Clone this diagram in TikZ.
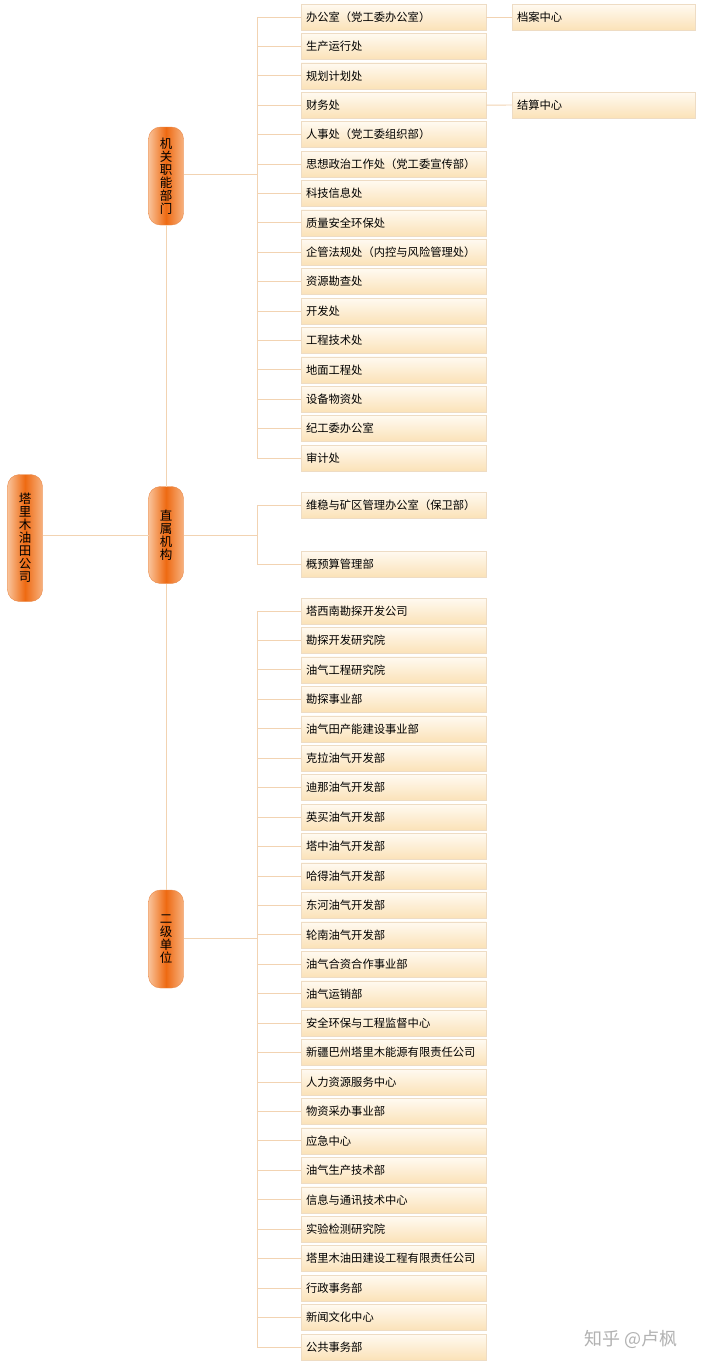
\documentclass[tikz,border=0pt]{standalone}
\usepackage{fontspec}
\setmainfont{Noto Sans CJK SC}
\usepackage{tikz}
\usetikzlibrary{calc}

\definecolor{boxtop}{HTML}{FFFAF1}
\definecolor{boxbot}{HTML}{FBE2B8}
\definecolor{boxline}{HTML}{EEDCC4}
\definecolor{pillmid}{HTML}{EE6A12}
\definecolor{pilledge}{HTML}{F9C39A}
\definecolor{pillline}{HTML}{E98A4A}
\definecolor{linkline}{HTML}{F2D3B2}

\tikzset{
    deptbox/.style={draw=boxline, top color=boxtop, bottom color=boxbot,
        anchor=west, minimum height=26pt, text width=175pt, inner xsep=5pt,
        align=left, font=\fontsize{11.3}{13}\selectfont},
    pill/.style={draw=pillline, rounded corners=12pt, left color=pilledge,
        right color=pilledge!80!pillmid, middle color=pillmid,
        minimum width=35pt, align=center, font=\fontsize{12.5}{13}\selectfont},
    link/.style={draw=linkline, line width=0.9pt}
}

\begin{document}
\begin{tikzpicture}[x=1pt, y=-1pt, inner sep=0pt, outer sep=0pt]
    \useasboundingbox[fill=white] (0,0) rectangle (704,1371);

    % company and the three groups
    \node[pill, minimum height=127pt] (company) at (25,538)
    {塔\\里\\木\\油\\田\\公\\司};
    \node[pill, minimum height=98pt] (jg) at (166,176)
    {机\\关\\职\\能\\部\\门};
    \node[pill, minimum height=97pt] (zs) at (166,535)
    {直\\属\\机\\构};
    \node[pill, minimum height=98pt] (ej) at (166,939)
    {二\\级\\单\\位};

    \draw[link] (company.east |- zs.west) -- (zs.west);
    \draw[link] (jg) -- (zs);
    \draw[link] (zs) -- (ej);

    % functional departments
    \foreach \name [count=\i] in {办公室（党工委办公室）, 生产运行处, 规划计划处,
        财务处, 人事处（党工委组织部）, 思想政治工作处（党工委宣传部）, 科技信息处,
        质量安全环保处, 企管法规处（内控与风险管理处）, 资源勘查处, 开发处,
        工程技术处, 地面工程处, 设备物资处, 纪工委办公室, 审计处}
    {
        \node[deptbox] (dept_\i) at (301, {17+29.4*(\i-1)}) {\name};
    }

    \coordinate (jg_bus) at (257,174);
    \draw[link] (jg.east |- jg_bus) -- (jg_bus);
    \draw[link] (jg_bus |- dept_1.west) -- (jg_bus |- dept_16.west);
    \foreach \i in {1,...,16}
    {
        \draw[link] (jg_bus |- dept_\i.west) -- (dept_\i.west);
    }

    % sub-centres
    \node[deptbox, text width=173pt] (dept_1_sub) at (512,17) {档案中心};
    \node[deptbox, text width=173pt] (dept_4_sub) at (512,105) {结算中心};
    \draw[link] (dept_1.east) -- (dept_1_sub.west);
    \draw[link] (dept_4.east) -- (dept_4_sub.west);

    % directly affiliated
    \node[deptbox] (direct_1) at (301,505) {维稳与矿区管理办公室（保卫部）};
    \node[deptbox] (direct_2) at (301,564) {概预算管理部};

    \coordinate (zs_bus) at (257,535);
    \draw[link] (zs.east) -- (zs_bus);
    \draw[link] (zs_bus |- direct_1.west) -- (zs_bus |- direct_2.west);
    \draw[link] (zs_bus |- direct_1.west) -- (direct_1.west);
    \draw[link] (zs_bus |- direct_2.west) -- (direct_2.west);

    % second-level units
    \foreach \name [count=\i] in {塔西南勘探开发公司, 勘探开发研究院, 油气工程研究院,
        勘探事业部, 油气田产能建设事业部, 克拉油气开发部, 迪那油气开发部,
        英买油气开发部, 塔中油气开发部, 哈得油气开发部, 东河油气开发部,
        轮南油气开发部, 油气合资合作事业部, 油气运销部, 安全环保与工程监督中心,
        新疆巴州塔里木能源有限责任公司, 人力资源服务中心, 物资采办事业部, 应急中心,
        油气生产技术部, 信息与通讯技术中心, 实验检测研究院,
        塔里木油田建设工程有限责任公司, 行政事务部, 新闻文化中心, 公共事务部}
    {
        \node[deptbox] (unit_\i) at (301, {611+29.44*(\i-1)}) {\name};
    }

    \coordinate (ej_bus) at (257,938);
    \draw[link] (ej.east |- ej_bus) -- (ej_bus);
    \draw[link] (ej_bus |- unit_1.west) -- (ej_bus |- unit_26.west);
    \foreach \i in {1,...,26}
    {
        \draw[link] (ej_bus |- unit_\i.west) -- (unit_\i.west);
    }

    % watermark
    \node[text=black!30, font=\fontsize{18}{18}\selectfont] (mark) at (631,1339)
    {知乎 @卢枫};

\end{tikzpicture}
\end{document}
